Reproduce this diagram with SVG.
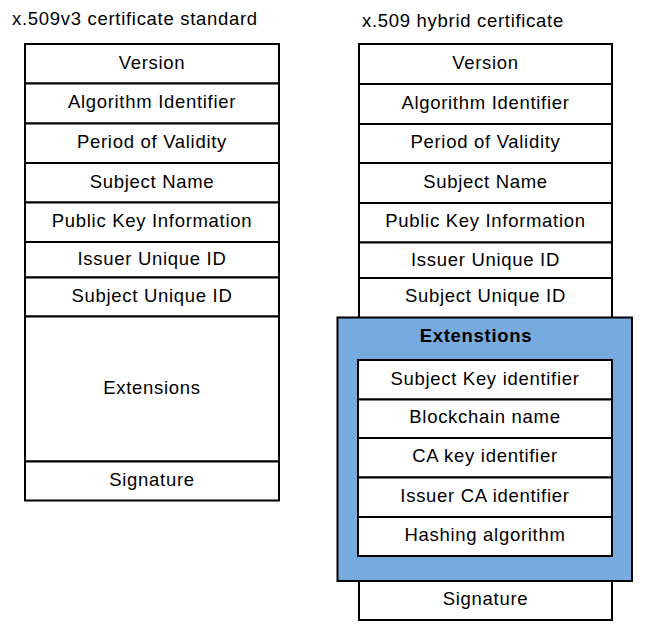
<svg xmlns="http://www.w3.org/2000/svg" width="648" height="637" viewBox="0 0 648 637">
<style>
.cell{fill:#ffffff;stroke:#000000;stroke-width:2}
.ext{fill:#77abe0;stroke:#000000;stroke-width:2}
text{font-family:"Liberation Sans",Arial,Helvetica,sans-serif;font-size:18.5px;letter-spacing:0.7px;fill:#000000}
.c{text-anchor:middle}
.b{font-weight:bold}
</style>
<rect width="648" height="637" fill="#ffffff"/>
<g id="left">
<text x="12" y="25">x.509v3 certificate standard</text>
<g id="l-version"><rect class="cell" x="25" y="44" width="254" height="39.5"/><text class="c" x="152" y="68.5">Version</text></g>
<g id="l-alg"><rect class="cell" x="25" y="83.5" width="254" height="40"/><text class="c" x="152" y="108">Algorithm Identifier</text></g>
<g id="l-period"><rect class="cell" x="25" y="123.5" width="254" height="39.5"/><text class="c" x="152" y="148">Period of Validity</text></g>
<g id="l-subject"><rect class="cell" x="25" y="163" width="254" height="39.5"/><text class="c" x="152" y="187.5">Subject Name</text></g>
<g id="l-pki"><rect class="cell" x="25" y="202.5" width="254" height="39.5"/><text class="c" x="152" y="227">Public Key Information</text></g>
<g id="l-issuer"><rect class="cell" x="25" y="242" width="254" height="35.5"/><text class="c" x="152" y="265">Issuer Unique ID</text></g>
<g id="l-subjid"><rect class="cell" x="25" y="277.5" width="254" height="39"/><text class="c" x="152" y="302">Subject Unique ID</text></g>
<g id="l-ext"><rect class="cell" x="25" y="316.5" width="254" height="145"/><text class="c" x="152" y="394">Extensions</text></g>
<g id="l-sig"><rect class="cell" x="25" y="461.5" width="254" height="39"/><text class="c" x="152" y="486">Signature</text></g>
</g>
<g id="right">
<text x="362" y="27">x.509 hybrid certificate</text>
<g id="r-version"><rect class="cell" x="359" y="44" width="253" height="40"/><text class="c" x="485.5" y="68.5">Version</text></g>
<g id="r-alg"><rect class="cell" x="359" y="84" width="253" height="40"/><text class="c" x="485.5" y="108.5">Algorithm Identifier</text></g>
<g id="r-period"><rect class="cell" x="359" y="124" width="253" height="39"/><text class="c" x="485.5" y="148">Period of Validity</text></g>
<g id="r-subject"><rect class="cell" x="359" y="163" width="253" height="40"/><text class="c" x="485.5" y="188">Subject Name</text></g>
<g id="r-pki"><rect class="cell" x="359" y="203" width="253" height="39.5"/><text class="c" x="485.5" y="227">Public Key Information</text></g>
<g id="r-issuer"><rect class="cell" x="359" y="242.5" width="253" height="35.5"/><text class="c" x="485.5" y="266">Issuer Unique ID</text></g>
<g id="r-subjid"><rect class="cell" x="359" y="278" width="253" height="40"/><text class="c" x="485.5" y="302">Subject Unique ID</text></g>
<g id="r-ext">
<rect class="ext" x="337.5" y="317.5" width="294.5" height="263.5"/>
<text class="c b" x="476" y="341.5">Extenstions</text>
<g id="r-ski"><rect class="cell" x="358" y="360" width="254" height="39.5"/><text class="c" x="485" y="385">Subject Key identifier</text></g>
<g id="r-bc"><rect class="cell" x="358" y="399.5" width="254" height="38.5"/><text class="c" x="485" y="423">Blockchain name</text></g>
<g id="r-cak"><rect class="cell" x="358" y="438" width="254" height="39.5"/><text class="c" x="485" y="462">CA key identifier</text></g>
<g id="r-ica"><rect class="cell" x="358" y="477.5" width="254" height="39.5"/><text class="c" x="485" y="502">Issuer CA identifier</text></g>
<g id="r-hash"><rect class="cell" x="358" y="517" width="254" height="39"/><text class="c" x="485" y="541">Hashing algorithm</text></g>
</g>
<g id="r-sig"><rect class="cell" x="359" y="581" width="253" height="39"/><text class="c" x="485.5" y="605">Signature</text></g>
</g>
<g id="connectors"/>
</svg>
